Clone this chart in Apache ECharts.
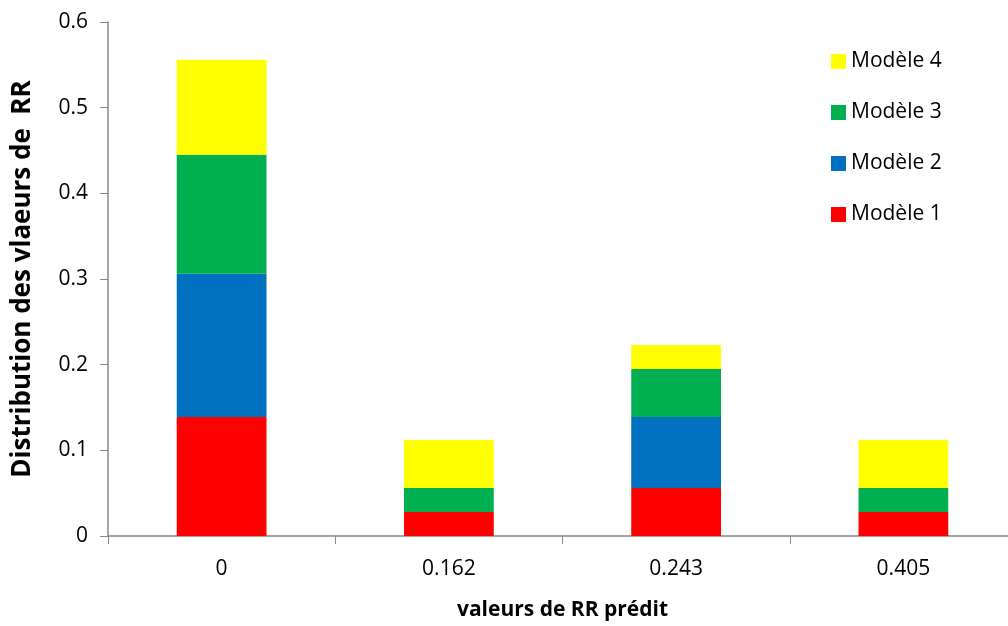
<!DOCTYPE html>
<html><head><meta charset="utf-8">
<script src="https://cdn.jsdelivr.net/npm/echarts@6/dist/echarts.min.js"></script>
<style>html,body{margin:0;padding:0;background:#fff;overflow:hidden}#c{width:1024px;height:626px}</style>
</head><body><div id="c"></div>
<script>
const categories = ['0', '0.162', '0.243', '0.405'];
const modele1 = [0.139, 0.028, 0.056, 0.028];
const modele2 = [0.167, 0, 0.083, 0];
const modele3 = [0.139, 0.028, 0.056, 0.028];
const modele4 = [0.111, 0.056, 0.028, 0.056];
const seriesNames = ['Modèle 1', 'Modèle 2', 'Modèle 3', 'Modèle 4'];
const colors = ['#FF0000', '#0070C0', '#00B050', '#FFFF00'];
const values = [modele1, modele2, modele3, modele4];

const chart = echarts.init(document.getElementById('c'));
const font = 'Open Sans';
chart.setOption({
  animation: false,
  grid: {left: 108, top: 22, right: 7, height: 515},
  legend: {
    orient: 'vertical', left: 826, top: 46, itemGap: 30, itemWidth: 15, itemHeight: 15,
    icon: 'rect', data: ['Modèle 4', 'Modèle 3', 'Modèle 2', 'Modèle 1'],
    textStyle: {fontFamily: font, fontSize: 21, color: '#000'}
  },
  xAxis: {
    type: 'category', data: categories,
    name: 'valeurs de RR prédit', nameLocation: 'middle', nameGap: 64,
    nameTextStyle: {fontFamily: font, fontSize: 21, fontWeight: 'bold', color: '#000'},
    axisLine: {lineStyle: {color: '#888', width: 1.5}},
    axisTick: {show: true, length: 8, lineStyle: {color: '#888'}},
    axisLabel: {fontFamily: font, fontSize: 21, color: '#000', margin: 23}
  },
  yAxis: {
    type: 'value', min: 0, max: 0.6, interval: 0.1,
    name: 'Distribution des vlaeurs de  RR', nameLocation: 'middle', nameGap: 72,
    nameTextStyle: {fontFamily: font, fontSize: 26, fontWeight: 'bold', color: '#000'},
    axisLine: {show: true, lineStyle: {color: '#888', width: 1.5}},
    axisTick: {show: true, length: 8, lineStyle: {color: '#888'}},
    splitLine: {show: false},
    axisLabel: {fontFamily: font, fontSize: 21, color: '#000', margin: 20}
  },
  series: seriesNames.map((n, i) => ({
    name: n, type: 'bar', stack: 'total', data: values[i], barWidth: '39.5%',
    itemStyle: {color: colors[i]}
  }))
});
</script></body></html>
